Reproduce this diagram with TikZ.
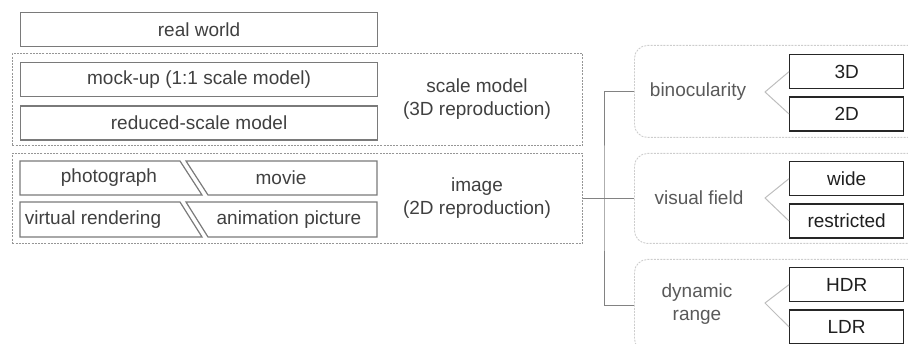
\documentclass[tikz,border=0pt]{standalone}
\usepackage{fontspec}
\setmainfont{Liberation Sans}
\usetikzlibrary{positioning, calc}
\definecolor{boxgray}{RGB}{122, 122, 122}
\definecolor{textgray}{RGB}{64, 64, 64}
\definecolor{dashgray}{RGB}{150, 150, 150}
\definecolor{lightdash}{RGB}{205, 205, 205}
\definecolor{treegray}{RGB}{130, 130, 130}
\definecolor{bracegray}{RGB}{190, 190, 190}

\begin{document}
\begin{tikzpicture}[
    x=1pt, y=-1pt, % one unit per pixel, y running down
    font=\fontsize{19}{23}\selectfont,
    cell/.style={ % plain boxes of the left column
        rectangle,
        draw=boxgray,
        line width=1.2pt,
        minimum width=357pt,
        minimum height=34pt,
        inner sep=0pt,
        text=textgray
    },
    slab/.style={draw=boxgray, line width=1.2pt, line join=miter}, % slanted halves
    word/.style={inner sep=0pt, text=textgray, align=center},
    group/.style={ % dotted frames round the reproductions
        rectangle,
        draw=dashgray,
        line width=0.9pt,
        dash pattern=on 2pt off 1.2pt,
        minimum width=570pt,
        inner sep=0pt
    },
    panel/.style={ % rounded frames of the right column
        rectangle,
        draw=lightdash,
        line width=0.9pt,
        dash pattern=on 2pt off 1.2pt,
        rounded corners=13pt,
        minimum width=300pt,
        minimum height=92pt,
        inner sep=0pt
    },
    choice/.style={
        rectangle,
        draw=black!85,
        line width=1.3pt,
        minimum width=114pt,
        minimum height=34pt,
        inner sep=0pt,
        text=black!88
    },
    aspect/.style={inner sep=0pt, text=black!65, align=center},
    tree/.style={draw=treegray, line width=1pt},
    brace/.style={draw=bracegray, line width=1pt}
]

\useasboundingbox (0,0) rectangle (908,344);

% Dotted groups
\node[group, minimum height=92pt, anchor=north west] (scalebox) at (12,53) {};
\node[group, minimum height=90pt, anchor=north west] (imagebox) at (12,153) {};

% Left column
\node[cell, anchor=north west] (real) at (20,12) {real world};
\node[cell, below=15pt of real] (mockup) {mock-up (1:1 scale model)};
\node[cell, below=8pt of mockup] (reduced) {reduced-scale model};

% Slanted image boxes
\draw[slab] (20,161) -- (180,161) -- (202,195) -- (20,195) -- cycle;
\draw[slab] (186,161) -- (377,161) -- (377,195) -- (208,195) -- cycle;
\draw[slab] (20,202) -- (180,202) -- (202,237) -- (20,237) -- cycle;
\draw[slab] (186,202) -- (377,202) -- (377,237) -- (208,237) -- cycle;
\node[word] (photo) at (109,178) {photograph};
\node[word] (movie) at (281,178) {movie};
\node[word] (virtual) at (93,220) {virtual rendering};
\node[word] (anim) at (289,220) {animation picture};

% Group labels
\node[word] (scalelbl) at (477,99) {scale model\\(3D reproduction)};
\node[word] (imagelbl) at (477,198) {image\\(2D reproduction)};

% Right column frames
\node[panel, anchor=north west] (binobox) at (634,45) {};
\node[panel, anchor=north west, minimum height=90pt] (visbox) at (634,153) {};
\node[panel, anchor=north west] (dynbox) at (634,259) {};

\node[aspect] (bino) at (698,92) {binocularity};
\node[aspect] (visual) at (699,198) {visual field};
\node[aspect] (dynamic) at (697,304) {dynamic\\range};

% Choices
\node[choice, anchor=north west] (b3d) at (789,54) {3D};
\node[choice, below=7pt of b3d] (b2d) {2D};
\node[choice, anchor=north west] (wide) at (789,161) {wide};
\node[choice, below=7pt of wide] (restricted) {restricted};
\node[choice, anchor=north west] (hdr) at (789,267) {HDR};
\node[choice, below=7pt of hdr] (ldr) {LDR};

% Angle brackets
\coordinate (binotip) at (765,92);
\coordinate (vistip) at (765,198);
\coordinate (dyntip) at (765,303);
\draw[brace] (b3d.west) -- (binotip) -- (b2d.west);
\draw[brace] (wide.west) -- (vistip) -- (restricted.west);
\draw[brace] (hdr.west) -- (dyntip) -- (ldr.west);

% Tree
\coordinate (fork) at (604,198);
\draw[tree] (imagebox.east) -- (visbox.west);
\draw[tree] (binobox.west) -| (fork) |- (dynbox.west);

\end{tikzpicture}
\end{document}
